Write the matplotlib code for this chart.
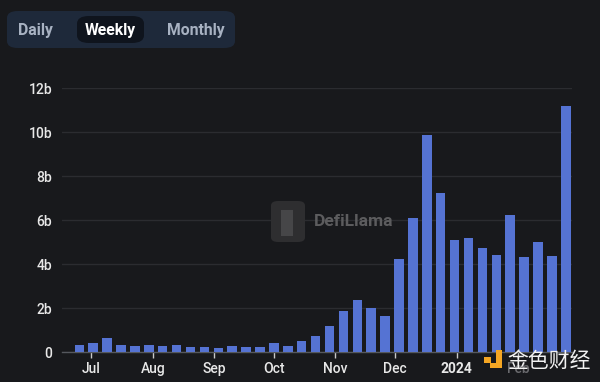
import matplotlib
matplotlib.use("Agg")
import matplotlib.pyplot as plt
import matplotlib.dates as mdates
from matplotlib.patches import FancyBboxPatch, Rectangle
import datetime as dt

# ---- data ----
start_date = "2023-06-25"
n_weeks = 36
volumes_b = [0.34, 0.41, 0.64, 0.34, 0.26, 0.31, 0.26, 0.31, 0.21, 0.21,
             0.18, 0.28, 0.21, 0.21, 0.40, 0.28, 0.52, 0.72, 1.16, 1.86,
             2.38, 1.98, 1.62, 4.22, 6.08, 9.86, 7.22, 5.10, 5.19, 4.75,
             4.43, 6.25, 4.34, 5.02, 4.37, 11.18]
y_ticks = [0, 2, 4, 6, 8, 10, 12]
y_labels = ["0", "2b", "4b", "6b", "8b", "10b", "12b"]
x_tick_dates = ["2023-07-01", "2023-08-01", "2023-09-01", "2023-10-01",
                "2023-11-01", "2023-12-01", "2024-01-01", "2024-02-01"]
x_tick_labels = ["Jul", "Aug", "Sep", "Oct", "Nov", "Dec", "2024", "Feb"]
buttons = ["Daily", "Weekly", "Monthly"]

BG = "#18191c"
BAR = "#5573d3"
GRID = "#2b2c30"
TXT = "#e8e8e8"

s0 = dt.datetime.strptime(start_date, "%Y-%m-%d")
dates = [s0 + dt.timedelta(days=7 * i) for i in range(n_weeks)]
tick_dates = [dt.datetime.strptime(d, "%Y-%m-%d") for d in x_tick_dates]

plt.rcParams['font.family'] = ['Roboto', 'DejaVu Sans']
fig = plt.figure(figsize=(6.0, 3.82), dpi=100, facecolor=BG)
ax = fig.add_axes([62 / 600, 30 / 382, 510 / 600, 264 / 382], facecolor=BG)

ax.bar(mdates.date2num(dates), volumes_b, width=4.8, color=BAR, zorder=3)

ax.set_ylim(0, 12)
ax.set_yticks(y_ticks)
ax.set_yticklabels(y_labels)
ax.set_xlim(mdates.date2num(s0 - dt.timedelta(days=8.7)),
            mdates.date2num(dates[-1] + dt.timedelta(days=3.1)))
ax.set_xticks(mdates.date2num(tick_dates))
ax.set_xticklabels(x_tick_labels)

ax.grid(axis="y", color=GRID, linewidth=1.0, zorder=0)
for s in ["top", "right", "left"]:
    ax.spines[s].set_visible(False)
ax.spines["bottom"].set_color("#55585e")
ax.spines["bottom"].set_linewidth(1.0)
ax.tick_params(axis="y", length=0, pad=7, labelsize=10, labelcolor=TXT)
ax.tick_params(axis="x", length=4, width=1, color="#c8c8c8", pad=3,
               labelsize=10, labelcolor=TXT)
for lab in ax.get_yticklabels() + ax.get_xticklabels():
    lab.set_fontweight("medium")
for lab in ax.get_xticklabels():
    if lab.get_text() == "2024":
        lab.set_fontweight("bold")
    if lab.get_text() == "Feb":
        lab.set_color("#6a6a6e")

# ---- toggle buttons ----
W, H = 600, 382
def fx(x): return x / W
def fy(y): return 1 - y / H

fig.patches.append(FancyBboxPatch((fx(7), fy(48)), fx(228), 37 / H,
                                  boxstyle="round,pad=0,rounding_size=0.018",
                                  transform=fig.transFigure, facecolor="#1e293a",
                                  edgecolor="none", zorder=1))
fig.patches.append(FancyBboxPatch((fx(77), fy(43)), fx(67), 27 / H,
                                  boxstyle="round,pad=0,rounding_size=0.02",
                                  transform=fig.transFigure, facecolor="#0f141d",
                                  edgecolor="none", zorder=2))
fig.text(fx(35.5), fy(30), buttons[0], color="#a8b2c2", fontsize=11.3,
         fontweight="bold", ha="center", va="center", zorder=3)
fig.text(fx(110.5), fy(30), buttons[1], color="#ffffff", fontsize=11.3,
         fontweight="bold", ha="center", va="center", zorder=3)
fig.text(fx(196), fy(30), buttons[2], color="#a8b2c2", fontsize=11.3,
         fontweight="bold", ha="center", va="center", zorder=3)

# ---- DefiLlama watermark ----
fig.patches.append(FancyBboxPatch((fx(271), fy(242)), fx(34), 41 / H,
                                  boxstyle="round,pad=0,rounding_size=0.012",
                                  transform=fig.transFigure, facecolor="#2e2e30",
                                  edgecolor="none", zorder=1))
fig.patches.append(Rectangle((fx(281), fy(236)), fx(12), 26 / H,
                             transform=fig.transFigure, facecolor="#464648",
                             edgecolor="none", zorder=1))
fig.text(fx(314), fy(222), "DefiLlama", color="#5c5c5e", fontsize=12.5,
         fontweight="bold", ha="left", va="center", zorder=1)

# ---- 金色财经 watermark ----
ORANGE = "#f5a623"
for (x0, y0, x1, y1) in [(484, 357, 491, 363), (496, 350, 502, 368),
                         (490, 363, 502, 368)]:
    fig.patches.append(Rectangle((fx(x0), fy(y1)), fx(x1 - x0), (y1 - y0) / H,
                                 transform=fig.transFigure, facecolor=ORANGE,
                                 edgecolor="none", zorder=5))
fig.text(fx(507), fy(361), "金色财经", color="#f2f2f2", fontsize=15,
         family=["Noto Sans CJK SC", "DejaVu Sans"], ha="left", va="center",
         zorder=6)

fig.savefig("out.png", dpi=100, facecolor=BG)
